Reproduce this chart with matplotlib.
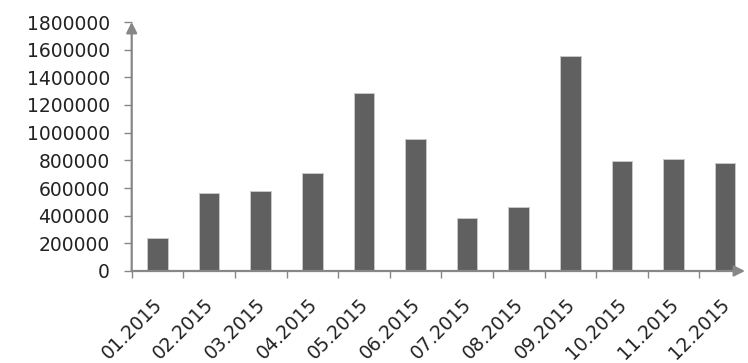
import matplotlib
matplotlib.use("Agg")
import matplotlib.pyplot as plt
import matplotlib.transforms as mtransforms

# monthly totals, 2015
months = ["01.2015", "02.2015", "03.2015", "04.2015", "05.2015", "06.2015",
          "07.2015", "08.2015", "09.2015", "10.2015", "11.2015", "12.2015"]
values = [240000, 562000, 576000, 711000, 1285000, 956000,
          383000, 460000, 1554000, 795000, 807000, 778000]
y_ticks = list(range(0, 1800001, 200000))

axis_grey = "#878787"
bar_grey = "#606060"

plt.rcParams["font.family"] = ["DejaVu Sans"]

fig = plt.figure(figsize=(7.48, 3.63), dpi=100)
W, H = 748, 363
x0, x1 = 131.7, 745
y0, y1 = 271, 22
ax = fig.add_axes([x0 / W, (H - y0) / H, (x1 - x0) / W, (y0 - y1) / H])

pos = list(range(len(months)))
ax.bar(pos, values, width=0.4, color=bar_grey, edgecolor="#c8c8c8",
       linewidth=0.7, zorder=2)

cat_w = 51.6
ax.set_xlim(-0.5, -0.5 + (x1 - x0) / cat_w)
ax.set_ylim(0, 1800000)

for s in ax.spines.values():
    s.set_visible(False)

# axis lines with arrow heads
arrow = dict(arrowstyle="-|>", color=axis_grey, lw=1.6, mutation_scale=16,
             shrinkA=0, shrinkB=0)
ax.annotate("", xy=(1, 0), xytext=(0, 0), xycoords="axes fraction",
            arrowprops=arrow, annotation_clip=False)
ax.annotate("", xy=(0, 1.0), xytext=(0, 0), xycoords="axes fraction",
            arrowprops=arrow, annotation_clip=False)

ax.set_yticks(y_ticks)
ax.set_yticklabels([str(v) for v in y_ticks])
ax.tick_params(axis="y", direction="out", length=5.8, width=1.0,
               color=axis_grey, pad=10, labelsize=13.5, labelcolor="#222222")

ax.set_xticks(pos)
ax.set_xticks([p - 0.5 for p in pos], minor=True)
ax.tick_params(axis="x", which="major", length=0, pad=17, labelsize=13.5,
               labelcolor="#222222")
ax.tick_params(axis="x", which="minor", direction="out", length=5, width=1.0,
               color=axis_grey)
ax.set_xticklabels(months, rotation=45, ha="right", va="top",
                   rotation_mode="anchor")
shift = mtransforms.ScaledTranslation(-5 / 100, 0, fig.dpi_scale_trans)
for lab in ax.get_xticklabels():
    lab.set_transform(lab.get_transform() + shift)

fig.savefig("out.png", dpi=100)
